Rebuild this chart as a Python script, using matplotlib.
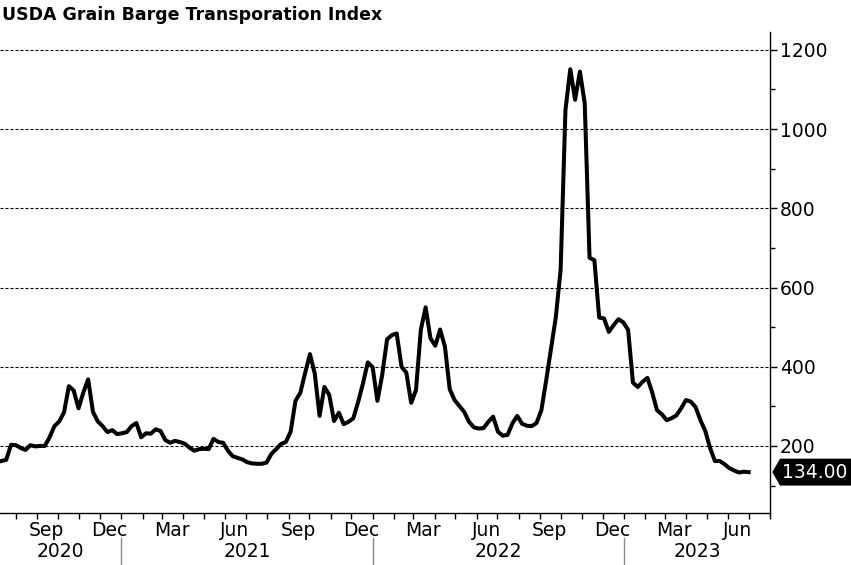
import pandas as pd
import matplotlib.pyplot as plt
import matplotlib.dates as mdates
from matplotlib.ticker import MultipleLocator, NullFormatter
from matplotlib.patches import Polygon

# weekly index values (Jul 2020 - Jun 2023)
start_date = "2020-07-11"
index_values = [
    162, 165, 203, 202, 195, 190, 202, 199, 200, 200,
    222, 250, 262, 285, 351, 340, 295, 335, 368, 286,
    262, 250, 235, 240, 230, 232, 235, 250, 258, 222,
    232, 231, 242, 238, 215, 208, 213, 210, 206, 196,
    188, 192, 193, 192, 218, 210, 208, 188, 174, 170,
    166, 159, 156, 155, 155, 158, 180, 192, 205, 210,
    236, 314, 334, 384, 432, 383, 276, 349, 329, 263,
    284, 255, 261, 270, 311, 358, 411, 399, 314, 380,
    469, 480, 484, 400, 385, 309, 341, 493, 550, 472,
    453, 494, 451, 343, 316, 301, 286, 261, 247, 244,
    245, 261, 274, 236, 226, 228, 257, 276, 256, 251,
    250, 258, 290, 365, 445, 525, 645, 1048, 1151, 1074,
    1145, 1065, 675, 669, 524, 522, 488, 505, 520, 512,
    493, 360, 349, 362, 372, 335, 290, 280, 265, 270,
    277, 295, 316, 312, 298, 265, 238, 195, 162, 162,
    154, 144, 138, 133, 135, 134,
]
last_label = "134.00"
title = "USDA Grain Barge Transporation Index"
years = [2020, 2021, 2022, 2023]

dates = pd.date_range(start_date, periods=len(index_values), freq="7D")

fig = plt.figure(figsize=(8.51, 5.65), dpi=100)
ax = fig.add_axes([0.0, 52 / 565, 770 / 851, 481 / 565])

ax.plot(dates, index_values, color="black", lw=2.9, solid_joinstyle="round")

x_left = pd.Timestamp("2020-07-09")
x_right = pd.Timestamp("2023-08-01")
ax.set_xlim(x_left, x_right)
ax.set_ylim(30.8, 1245)

# spines: only bottom and right
ax.spines["left"].set_visible(False)
ax.spines["top"].set_visible(False)
for s in ["bottom", "right"]:
    ax.spines[s].set_linewidth(1.0)

# y axis on the right
ax.yaxis.tick_right()
ax.yaxis.set_major_locator(MultipleLocator(200))
ax.yaxis.set_minor_locator(MultipleLocator(100))
ax.tick_params(axis="y", which="major", length=5, width=1, pad=2, labelsize=13.5)
ax.tick_params(axis="y", which="minor", length=3.5, width=1)
ax.yaxis.grid(True, which="major", color="black", lw=0.8, linestyle=(0, (2.7, 1.8)))

# x axis: ticks at month starts, labels mid-month for Mar/Jun/Sep/Dec
ax.xaxis.set_minor_locator(mdates.MonthLocator())
ax.xaxis.set_minor_formatter(NullFormatter())
ax.xaxis.set_major_locator(mdates.MonthLocator(bymonth=[3, 6, 9, 12], bymonthday=15))
ax.xaxis.set_major_formatter(mdates.DateFormatter("%b"))
ax.tick_params(axis="x", which="minor", length=4, width=1, direction="out")
ax.tick_params(axis="x", which="major", length=0, pad=6, labelsize=13.5)

# year labels and separators
xt = ax.get_xaxis_transform()
for yr in years:
    y0 = max(pd.Timestamp(f"{yr}-01-01"), x_left)
    y1 = min(pd.Timestamp(f"{yr + 1}-01-01"), x_right)
    mid = y0 + (y1 - y0) / 2
    ax.text(mid, -0.08, str(yr), transform=xt, ha="center", va="center", fontsize=13.5)
    if yr > years[0]:
        ax.plot([pd.Timestamp(f"{yr}-01-01")] * 2, [-0.052, -0.11], transform=xt,
                color="#888888", lw=1, clip_on=False)

# last value tag
yt = ax.get_yaxis_transform()
v = index_values[-1]
h = 34
tag = Polygon([(1.003, v), (1.013, v + h), (1.106, v + h), (1.106, v - h), (1.013, v - h)],
              closed=True, transform=yt, facecolor="black", edgecolor="none", clip_on=False)
ax.add_patch(tag)
ax.text(1.058, v, last_label, transform=yt, ha="center", va="center",
        color="white", fontsize=13.5)

fig.text(0.002, 1 - 15 / 565, title, ha="left", va="center",
         fontsize=12.5, fontweight="bold")

fig.savefig("out.png", dpi=100)
